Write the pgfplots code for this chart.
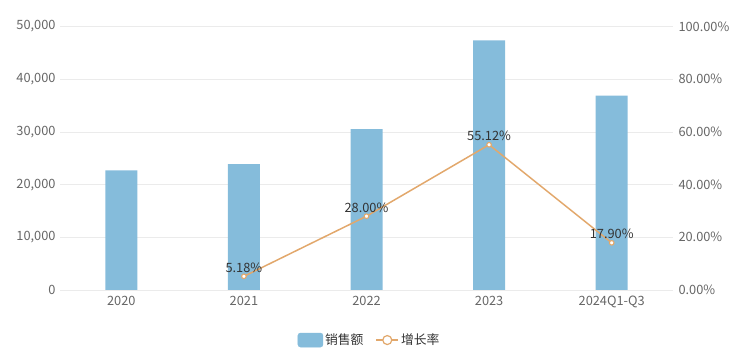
\documentclass[border=0pt]{standalone}
\usepackage{fontspec}
\setmainfont{Noto Sans CJK SC}
\usepackage{pgfplots}
\pgfplotsset{compat=1.18}
\definecolor{barblue}{HTML}{85BCDB}
\definecolor{lineorg}{HTML}{E2A86C}
\definecolor{gridc}{HTML}{EBEBEB}
\definecolor{tickc}{HTML}{666666}
\definecolor{labc}{HTML}{333333}
\begin{document}
\begin{tikzpicture}
\useasboundingbox (0,0) rectangle (749bp,362bp);
\pgfplotsset{
  common/.style={
    at={(60bp,72bp)}, anchor=south west,
    scale only axis, width=613bp, height=263.5bp,
    xmin=-0.5, xmax=4.5,
    axis line style={draw=none},
    major tick length=0pt,
    tick label style={font=\fontsize{12.8bp}{14bp}\selectfont, text=tickc},
    /pgf/number format/assume math mode=true,
  }
}
\begin{axis}[common,
  ymin=0, ymax=50000,
  ytick={0,10000,20000,30000,40000,50000},
  scaled y ticks=false,
  yticklabel style={/pgf/number format/fixed, /pgf/number format/1000 sep={,}, xshift=-1bp},
  ymajorgrids, grid style={gridc, line width=0.8bp},
  xtick={0,1,2,3,4},
  xticklabels={2020,2021,2022,2023,2024Q1-Q3},
  xticklabel style={yshift=-2.5bp},
  ybar, bar width=32bp,
]
\addplot[fill=barblue, draw=none] coordinates {(0,22700) (1,23870) (2,30550) (3,47390) (4,36870)};
\end{axis}
\begin{axis}[common,
  axis y line*=right,
  ymin=0, ymax=100,
  ytick={0,20,40,60,80,100},
  yticklabels={0.00\%,20.00\%,40.00\%,60.00\%,80.00\%,100.00\%},
  yticklabel style={xshift=2bp},
  xtick=\empty,
  legend style={at={(0.505,-0.19)}, anchor=center, draw=none, legend columns=2,
    font=\fontsize{12.8bp}{14bp}\selectfont, text=labc,
    /tikz/every even column/.append style={column sep=10bp}},
]
\addlegendimage{legend image code/.code={\fill[barblue, rounded corners=2.5bp] (0bp,-7bp) rectangle (25bp,7bp);}}
\addlegendentry{销售额}
\addplot[lineorg, line width=1.5bp, mark=*, mark size=2.3bp,
  mark options={fill=white, draw=lineorg, line width=1.1bp},
  nodes near coords={\pgfmathprintnumber[fixed,fixed zerofill,precision=2]{\pgfplotspointmeta}\%},
  every node near coord/.append style={font=\fontsize{12.8bp}{14bp}\selectfont, text=labc, anchor=south, yshift=0bp},
  legend image code/.code={\draw[lineorg, line width=1.5bp] (0bp,0bp) -- (22bp,0bp);
    \draw[lineorg, fill=white, line width=1.2bp] (11bp,0bp) circle (4.5bp);}
] coordinates {(1,5.18) (2,28.00) (3,55.12) (4,17.90)};
\addlegendentry{增长率}
\end{axis}
\end{tikzpicture}
\end{document}
